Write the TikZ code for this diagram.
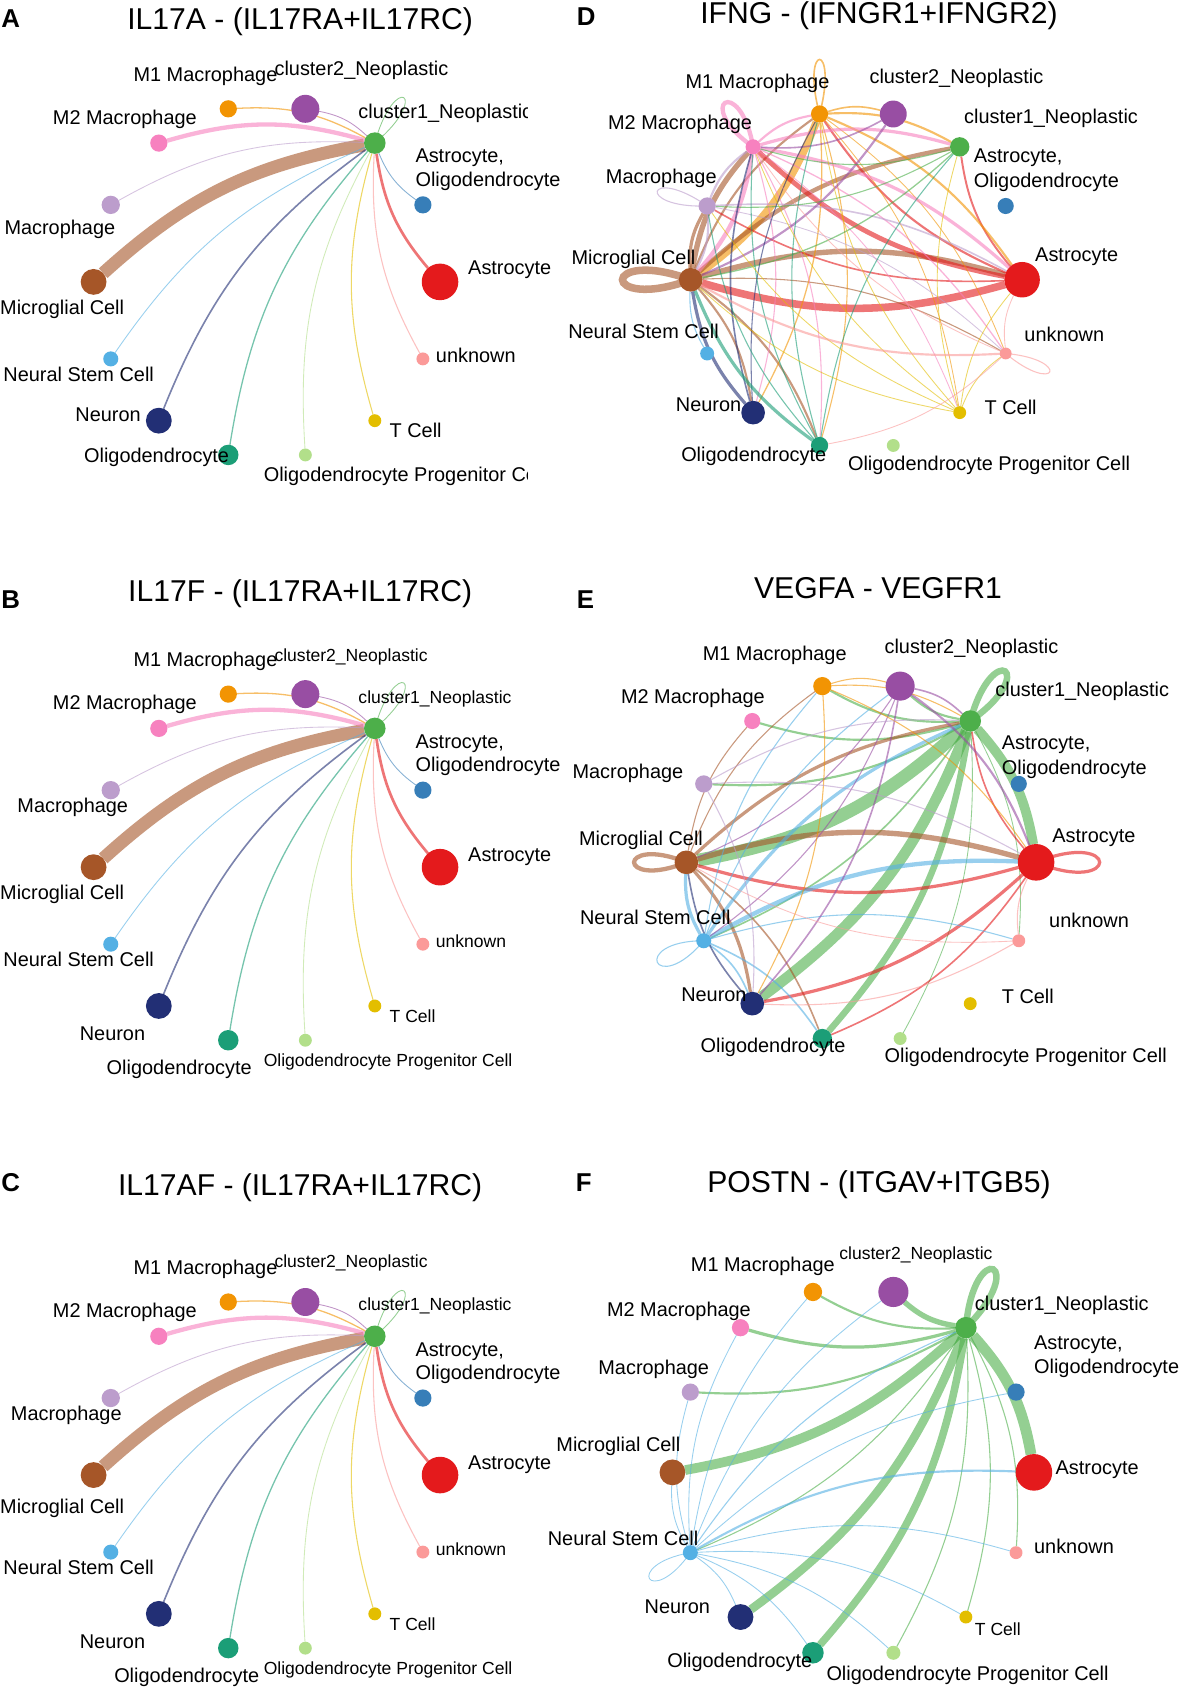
\documentclass[tikz,border=0pt]{standalone}
\usepackage{fontspec}
\setmainfont{Liberation Sans}
\pgfdeclarelayer{edges}
\pgfdeclarelayer{paper}
\pgfsetlayers{paper,edges,main}
\definecolor{cAst}{HTML}{E41A1C}
\definecolor{cAO}{HTML}{377EB8}
\definecolor{cCl1}{HTML}{4DAF4A}
\definecolor{cCl2}{HTML}{984EA3}
\definecolor{cM1}{HTML}{F29403}
\definecolor{cM2}{HTML}{F781BF}
\definecolor{cMac}{HTML}{BC9DCC}
\definecolor{cMic}{HTML}{A65628}
\definecolor{cNSC}{HTML}{54B0E4}
\definecolor{cNeu}{HTML}{222F75}
\definecolor{cOli}{HTML}{1B9E77}
\definecolor{cOPC}{HTML}{B2DF8A}
\definecolor{cTC}{HTML}{E3BE00}
\definecolor{cUnk}{HTML}{FB9A99}
\newcommand{\fbig}{\fontsize{18.5}{20}\selectfont}
\newcommand{\fsml}{\fontsize{16.3}{18}\selectfont}
\newcommand{\fttl}{\fontsize{28}{30}\selectfont}
\newcommand{\flet}{\fontsize{24}{26}\selectfont\bfseries}
\tikzset{
  cell/.style={circle,inner sep=0pt,outer sep=0pt,draw=none},
  lnk/.style={bend left=16,draw opacity=0.6},
  lab/.style={inner sep=0pt,anchor=base west,font=\fbig},
  labs/.style={inner sep=0pt,anchor=base west,font=\fsml},
  labe/.style={inner sep=0pt,anchor=base east,font=\fbig},
  ttl/.style={inner sep=0pt,anchor=base,font=\fttl},
  let/.style={inner sep=0pt,anchor=base west,font=\flet}
}
\newcommand{\setpanel}[5]{\gdef\pp{#1}\gdef\prx{#4}\gdef\pry{#5}\coordinate (#1c) at (#2,-#3);}
\newcommand{\cn}[4]{\node[cell,fill=#4,minimum size=#3pt] (\pp#1) at ([shift={(#2:\prx pt and \pry pt)}]\pp c) {};}
\newcommand{\nsA}[7]{\cn{ast}{0}{#1}{cAst}\cn{ao}{25.714}{#2}{cAO}\cn{c1}{51.429}{#3}{cCl1}\cn{c2}{77.143}{#4}{cCl2}\cn{m1}{102.857}{#5}{cM1}\cn{m2}{128.571}{#6}{cM2}\cn{mac}{154.286}{#7}{cMac}\nsB}
\newcommand{\nsB}[7]{\cn{mic}{180}{#1}{cMic}\cn{nsc}{205.714}{#2}{cNSC}\cn{neu}{231.429}{#3}{cNeu}\cn{oli}{257.143}{#4}{cOli}\cn{opc}{282.857}{#5}{cOPC}\cn{tc}{308.571}{#6}{cTC}\cn{unk}{334.286}{#7}{cUnk}}
\newcommand{\ed}[4]{\draw[lnk,draw=#3,line width=#4pt] (\pp#1) to (\pp#2);}
\newcommand{\lp}[6]{\draw[draw=#2,draw opacity=0.6,line width=#3pt] (\pp#1.center) .. controls +(#4:#6pt) and +(#5:#6pt) .. (\pp#1.center);}
\newcommand{\labW}[4]{\node[lab] (#1) at (#2,-#3) {#4};}
\newcommand{\labS}[4]{\node[labs] (#1) at (#2,-#3) {#4};}
\newcommand{\labE}[4]{\node[labe] (#1) at (#2,-#3) {#4};}
\newcommand{\abcedges}{%
\begin{pgfonlayer}{edges}
\ed{mic}{c1}{cMic}{12}
\ed{m2}{c1}{cM2}{4}
\ed{ast}{c1}{cAst}{2.5}
\ed{neu}{c1}{cNeu}{1.5}
\ed{m1}{c1}{cM1}{1.2}
\ed{oli}{c1}{cOli}{1.2}
\ed{tc}{c1}{cTC}{1}
\ed{unk}{c1}{cUnk}{1}
\ed{c2}{c1}{cCl2}{0.8}
\ed{mac}{c1}{cMac}{0.8}
\ed{nsc}{c1}{cNSC}{0.8}
\ed{opc}{c1}{cOPC}{0.8}
\ed{ao}{c1}{cAO}{0.8}
\lp{c1}{cCl1}{0.8}{40}{75}{70}
\end{pgfonlayer}}
\begin{document}
\begin{tikzpicture}[x=1pt,y=1pt]
\begin{pgfonlayer}{paper}
\fill[white] (0,0) rectangle (1098,-1568);
\end{pgfonlayer}
\useasboundingbox (0,0) rectangle (1098,-1568);
% ---------------- Panel A
\node[let] (LA) at (1,-25.6) {A};
\node[ttl] (TA) at (279,-27) {IL17A - (IL17RA+IL17RC)};
\setpanel{A}{248}{262}{161}{165}
\nsA{34}{16}{20}{26}{16}{16}{17}{24}{14}{24}{19}{12}{12}{12}
\abcedges
\labE{A1}{258}{75.5}{M1 Macrophage}
\labW{A2}{255}{70.5}{cluster2\_Neoplastic}
\begin{scope}
\clip (0,0) rectangle (490,-480);
\labW{A3}{333}{110.5}{cluster1\_Neoplastic}
\labW{A4}{245}{447.5}{Oligodendrocyte Progenitor Cell}
\end{scope}
\labW{A5}{49}{115.5}{M2 Macrophage}
\labW{A6}{386}{151.5}{Astrocyte,}
\labW{A7}{386}{173.5}{Oligodendrocyte}
\labW{A8}{4}{217.5}{Macrophage}
\labW{A9}{435}{255.5}{Astrocyte}
\labW{A10}{0}{292.5}{Microglial Cell}
\labW{A11}{405}{336.5}{unknown}
\labW{A12}{3}{354.5}{Neural Stem Cell}
\labE{A13}{131}{391.5}{Neuron}
\labW{A14}{362}{406.5}{T Cell}
\labW{A15}{78}{429.5}{Oligodendrocyte}
% ---------------- Panel B
\node[let] (LB) at (1,-565.6) {B};
\node[ttl] (TB) at (279,-559) {IL17F - (IL17RA+IL17RC)};
\setpanel{B}{248}{806}{161}{165}
\nsA{34}{16}{20}{26}{16}{16}{17}{24}{14}{24}{19}{12}{12}{12}
\abcedges
\labE{B1}{258}{619.5}{M1 Macrophage}
\labS{B2}{255}{614.5}{cluster2\_Neoplastic}
\labS{B3}{333}{653.5}{cluster1\_Neoplastic}
\labW{B5}{49}{659.5}{M2 Macrophage}
\labW{B6}{386}{695.5}{Astrocyte,}
\labW{B7}{386}{717.5}{Oligodendrocyte}
\labW{B8}{16}{755.5}{Macrophage}
\labW{B9}{435}{800.5}{Astrocyte}
\labW{B10}{0}{836.5}{Microglial Cell}
\labS{B11}{405}{880.5}{unknown}
\labW{B12}{3}{898.5}{Neural Stem Cell}
\labS{B14}{362}{950.5}{T Cell}
\labW{B13}{74}{967.5}{Neuron}
\labW{B15}{99}{998.5}{Oligodendrocyte}
\labS{B4}{245}{991.5}{Oligodendrocyte Progenitor Cell}
% ---------------- Panel C
\node[let] (LC) at (1,-1107.6) {C};
\node[ttl] (TC) at (279,-1111) {IL17AF - (IL17RA+IL17RC)};
\setpanel{C}{248}{1371}{161}{165}
\nsA{34}{16}{20}{26}{16}{16}{17}{24}{14}{24}{19}{12}{12}{12}
\abcedges
\labE{C1}{258}{1184.5}{M1 Macrophage}
\labS{C2}{255}{1178.5}{cluster2\_Neoplastic}
\labS{C3}{333}{1218.5}{cluster1\_Neoplastic}
\labW{C5}{49}{1224.5}{M2 Macrophage}
\labW{C6}{386}{1260.5}{Astrocyte,}
\labW{C7}{386}{1282.5}{Oligodendrocyte}
\labW{C8}{10}{1320.5}{Macrophage}
\labW{C9}{435}{1365.5}{Astrocyte}
\labW{C10}{0}{1406.5}{Microglial Cell}
\labS{C11}{405}{1445.5}{unknown}
\labW{C12}{3}{1463.5}{Neural Stem Cell}
\labS{C14}{362}{1515.5}{T Cell}
\labW{C13}{74}{1532.5}{Neuron}
\labW{C15}{106}{1563.5}{Oligodendrocyte}
\labS{C4}{245}{1556.5}{Oligodendrocyte Progenitor Cell}
% ---------------- Panel D
\node[let] (LD) at (536,-23.6) {D};
\node[ttl] (TD) at (817,-22) {IFNG - (IFNGR1+IFNGR2)};
\setpanel{D}{796}{260}{154}{158}
\nsA{33}{15}{18}{25}{16}{14}{16}{22}{13}{22}{16}{12}{12}{11}
\begin{pgfonlayer}{edges}
\lp{mic}{cMic}{7}{160}{200}{90}
\ed{ast}{mic}{cAst}{7}
\ed{m1}{mic}{cM1}{7}
\ed{mic}{ast}{cMic}{5}
\ed{mic}{m2}{cMic}{5}
\ed{mic}{mac}{cMic}{3}
\ed{mic}{c1}{cMic}{4}
\ed{mic}{neu}{cMic}{2}
\ed{mic}{oli}{cMic}{2}
\ed{mic}{unk}{cMic}{1}
\ed{mic}{m1}{cMic}{2}
\ed{ast}{m2}{cAst}{4.5}
\ed{ast}{m1}{cAst}{2}
\ed{ast}{c1}{cAst}{1.8}
\ed{ast}{mac}{cAst}{1.5}
\lp{m1}{cM1}{1.5}{75}{105}{70}
\ed{m1}{c2}{cM1}{1.5}
\ed{m1}{c1}{cM1}{2}
\ed{m1}{ast}{cM1}{2}
\ed{m1}{neu}{cM1}{1.2}
\ed{m1}{oli}{cM1}{1}
\ed{m1}{unk}{cM1}{0.8}
\ed{m1}{tc}{cM1}{0.8}
\lp{m2}{cM2}{4}{100}{145}{70}
\ed{m2}{ast}{cM2}{3}
\ed{m2}{c1}{cM2}{3}
\ed{m2}{mic}{cM2}{4}
\ed{m2}{neu}{cM2}{1}
\ed{m2}{oli}{cM2}{1}
\ed{m2}{unk}{cM2}{1.2}
\ed{m2}{tc}{cM2}{0.8}
\ed{m2}{m1}{cM2}{2}
\lp{mac}{cMac}{1}{145}{182}{68}
\ed{mac}{ast}{cMac}{1.5}
\ed{mac}{mic}{cMac}{2}
\ed{mac}{m2}{cMac}{2}
\ed{mac}{unk}{cMac}{0.8}
\ed{c2}{mic}{cCl2}{2}
\ed{c2}{m2}{cCl2}{1.5}
\ed{c1}{m2}{cCl1}{1}
\ed{c1}{mic}{cCl1}{1.2}
\ed{c1}{mac}{cCl1}{1}
\ed{neu}{mic}{cNeu}{3}
\ed{neu}{m2}{cNeu}{1.5}
\ed{neu}{m1}{cNeu}{1}
\ed{oli}{mic}{cOli}{3}
\ed{oli}{m2}{cOli}{1}
\ed{oli}{m1}{cOli}{1}
\ed{oli}{c1}{cOli}{1}
\ed{oli}{mac}{cOli}{1}
\ed{tc}{mic}{cTC}{0.8}
\ed{tc}{m2}{cTC}{0.8}
\ed{tc}{m1}{cTC}{0.8}
\ed{tc}{mac}{cTC}{0.8}
\ed{tc}{unk}{cTC}{0.8}
\ed{tc}{ast}{cTC}{0.8}
\ed{tc}{c1}{cTC}{0.8}
\lp{unk}{cUnk}{1}{-5}{-40}{62}
\ed{unk}{mic}{cUnk}{2}
\ed{unk}{oli}{cUnk}{0.8}
\ed{unk}{ast}{cUnk}{0.8}
\ed{unk}{m2}{cUnk}{0.8}
\ed{nsc}{mic}{cNSC}{1}
\end{pgfonlayer}
\labW{D1}{637}{82.5}{M1 Macrophage}
\labW{D2}{808}{77.5}{cluster2\_Neoplastic}
\labW{D3}{896}{114.5}{cluster1\_Neoplastic}
\labW{D5}{565}{120.5}{M2 Macrophage}
\labW{D6}{905}{151.5}{Astrocyte,}
\labW{D7}{905}{174.5}{Oligodendrocyte}
\labW{D8}{563}{170.5}{Macrophage}
\labW{D10}{531}{245.5}{Microglial Cell}
\labW{D9}{962}{243.5}{Astrocyte}
\labW{D12}{528}{314.5}{Neural Stem Cell}
\labW{D11}{952}{317.5}{unknown}
\labW{D13}{628}{382.5}{Neuron}
\labW{D14}{915}{385.5}{T Cell}
\labW{D15}{633}{428.5}{Oligodendrocyte}
\labW{D4}{788}{437.5}{Oligodendrocyte Progenitor Cell}
% ---------------- Panel E
\node[let] (LE) at (536,-565.6) {E};
\node[ttl] (TE) at (816,-556) {VEGFA - VEGFR1};
\setpanel{E}{800.5}{801.5}{162.5}{168}
\nsA{34}{15}{20}{27}{17}{15}{16}{22}{14}{22}{18}{12}{12}{12}
\begin{pgfonlayer}{edges}
\lp{c1}{cCl1}{6}{35}{75}{80}
\ed{c1}{ast}{cCl1}{9}
\ed{c1}{mic}{cCl1}{12}
\ed{c1}{neu}{cCl1}{10}
\ed{c1}{oli}{cCl1}{6}
\ed{c1}{c2}{cCl1}{2}
\ed{c1}{m1}{cCl1}{2}
\ed{c1}{m2}{cCl1}{2}
\ed{c1}{mac}{cCl1}{2}
\ed{c1}{nsc}{cCl1}{1.5}
\ed{c1}{opc}{cCl1}{0.8}
\ed{c1}{unk}{cCl1}{0.8}
\lp{mic}{cMic}{4}{158}{202}{70}
\ed{mic}{ast}{cMic}{5}
\ed{mic}{c1}{cMic}{3}
\ed{mic}{neu}{cMic}{3}
\ed{mic}{oli}{cMic}{1.5}
\ed{mic}{m1}{cMic}{1}
\ed{mic}{m2}{cMic}{1}
\lp{ast}{cAst}{3}{-22}{22}{85}
\ed{ast}{mic}{cAst}{3}
\ed{ast}{neu}{cAst}{3}
\ed{ast}{oli}{cAst}{1.5}
\ed{ast}{c1}{cAst}{1.5}
\lp{nsc}{cNSC}{1}{180}{230}{70}
\ed{nsc}{ast}{cNSC}{4}
\ed{nsc}{mic}{cNSC}{3}
\ed{nsc}{c1}{cNSC}{3}
\ed{nsc}{neu}{cNSC}{1.5}
\ed{nsc}{oli}{cNSC}{1.5}
\ed{nsc}{unk}{cNSC}{1}
\ed{nsc}{m1}{cNSC}{1}
\ed{nsc}{c2}{cNSC}{1}
\ed{c2}{ast}{cCl2}{2}
\ed{c2}{c1}{cCl2}{1.5}
\ed{c2}{neu}{cCl2}{1.5}
\ed{c2}{mic}{cCl2}{1}
\ed{c2}{nsc}{cCl2}{1}
\ed{m1}{c1}{cM1}{1}
\ed{m1}{neu}{cM1}{1}
\ed{m1}{ast}{cM1}{1}
\ed{m1}{c2}{cM1}{1}
\ed{mac}{ast}{cMac}{1}
\ed{mac}{c1}{cMac}{1}
\ed{mac}{neu}{cMac}{1}
\ed{unk}{neu}{cUnk}{1}
\ed{unk}{ast}{cUnk}{1}
\ed{unk}{mic}{cUnk}{0.8}
\ed{neu}{mic}{cNeu}{1.5}
\end{pgfonlayer}
\labW{E1}{653}{613.5}{M1 Macrophage}
\labW{E2}{822}{607.5}{cluster2\_Neoplastic}
\labW{E3}{925}{647.5}{cluster1\_Neoplastic}
\labW{E5}{577}{653.5}{M2 Macrophage}
\labW{E6}{931}{696.5}{Astrocyte,}
\labW{E7}{931}{719.5}{Oligodendrocyte}
\labW{E8}{532}{723.5}{Macrophage}
\labW{E10}{538}{785.5}{Microglial Cell}
\labW{E9}{978}{783.5}{Astrocyte}
\labW{E12}{539}{859.5}{Neural Stem Cell}
\labW{E11}{975}{862.5}{unknown}
\labW{E13}{633}{930.5}{Neuron}
\labW{E14}{931}{932.5}{T Cell}
\labW{E15}{651}{978.5}{Oligodendrocyte}
\labW{E4}{822}{987.5}{Oligodendrocyte Progenitor Cell}
% ---------------- Panel F
\node[let] (LF) at (535,-1107.6) {F};
\node[ttl] (TF) at (817,-1108) {POSTN - (ITGAV+ITGB5)};
\setpanel{F}{793}{1368.5}{168}{172}
\nsA{34}{16}{20}{28}{17}{16}{16}{24}{14}{24}{20}{13}{12}{12}
\begin{pgfonlayer}{edges}
\lp{c1}{cCl1}{6}{45}{85}{85}
\ed{c1}{ast}{cCl1}{10}
\ed{c1}{mic}{cCl1}{9}
\ed{c1}{neu}{cCl1}{8}
\ed{c1}{oli}{cCl1}{7}
\ed{c1}{c2}{cCl1}{5}
\ed{c1}{m1}{cCl1}{2}
\ed{c1}{m2}{cCl1}{3}
\ed{c1}{mac}{cCl1}{2}
\ed{c1}{nsc}{cCl1}{1}
\ed{c1}{opc}{cCl1}{1}
\ed{c1}{tc}{cCl1}{1}
\ed{c1}{unk}{cCl1}{1}
\lp{nsc}{cNSC}{0.8}{190}{235}{65}
\ed{nsc}{ast}{cNSC}{2}
\ed{nsc}{c1}{cNSC}{1}
\ed{nsc}{m1}{cNSC}{0.8}
\ed{nsc}{m2}{cNSC}{0.8}
\ed{nsc}{mac}{cNSC}{0.8}
\ed{nsc}{mic}{cNSC}{0.8}
\ed{nsc}{c2}{cNSC}{0.8}
\ed{nsc}{ao}{cNSC}{0.8}
\ed{nsc}{unk}{cNSC}{0.8}
\ed{nsc}{tc}{cNSC}{0.8}
\ed{nsc}{opc}{cNSC}{0.8}
\ed{nsc}{oli}{cNSC}{0.8}
\ed{nsc}{neu}{cNSC}{0.8}
\end{pgfonlayer}
\labW{F1}{642}{1181.5}{M1 Macrophage}
\labS{F2}{780}{1170.5}{cluster2\_Neoplastic}
\labW{F3}{906}{1218.5}{cluster1\_Neoplastic}
\labW{F5}{564}{1223.5}{M2 Macrophage}
\labW{F6}{961}{1254.5}{Astrocyte,}
\labW{F7}{961}{1276.5}{Oligodendrocyte}
\labW{F8}{556}{1277.5}{Macrophage}
\labW{F10}{517}{1349.5}{Microglial Cell}
\labW{F9}{981}{1370.5}{Astrocyte}
\labW{F12}{509}{1436.5}{Neural Stem Cell}
\labW{F11}{961}{1443.5}{unknown}
\labW{F13}{599}{1499.5}{Neuron}
\labS{F14}{906}{1520.5}{T Cell}
\labW{F15}{620}{1549.5}{Oligodendrocyte}
\labW{F4}{768}{1561.5}{Oligodendrocyte Progenitor Cell}
\end{tikzpicture}
\end{document}
